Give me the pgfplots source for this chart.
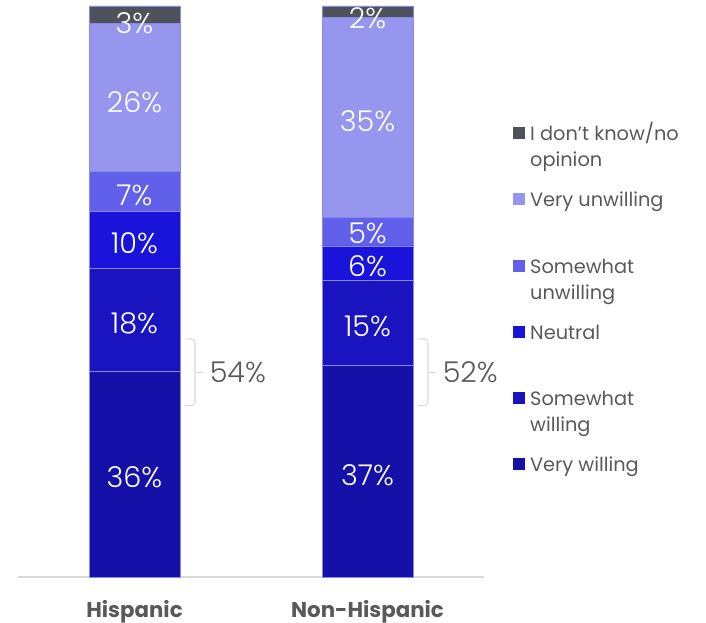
\documentclass[border=0pt]{standalone}
\usepackage{pgfplots}
\pgfplotsset{compat=1.18}
\usepackage{fontspec}
\setmainfont{Poppins}
\newfontfamily\lightfont{Poppins}[UprightFont={* Light}]
\definecolor{cDK}{HTML}{4E535B}
\definecolor{cVU}{HTML}{9696EE}
\definecolor{cSU}{HTML}{6060EA}
\definecolor{cNE}{HTML}{1A13D9}
\definecolor{cSW}{HTML}{1A14C0}
\definecolor{cVW}{HTML}{1511A8}
\definecolor{txt}{HTML}{595959}
\definecolor{brc}{HTML}{D9D9D9}
\definecolor{sep}{HTML}{8888E8}
\tikzset{
  dl/.style={text=white, font=\lightfont\fontsize{21.5}{25}\selectfont, inner sep=0pt},
  lg/.style={anchor=base west, inner sep=0pt, text=txt, font=\fontsize{14.5}{17}\selectfont},
  bl/.style={anchor=west, inner sep=0pt, text=txt, font=\lightfont\fontsize{21.5}{25}\selectfont},
}
\begin{document}
\begin{tikzpicture}
\useasboundingbox (-13.5pt,-34.5pt) rectangle (516pt,432.75pt);
\begin{axis}[
  at={(0pt,0pt)}, anchor=south west,
  x=174.75pt, y=4.2825pt,
  xmin=-0.5, xmax=1.5, ymin=0, ymax=100,
  ybar stacked, bar width=0.39,
  axis x line*=bottom, axis y line=none,
  x axis line style={brc, line width=1pt, -},
  xtick={0,1}, xticklabels={Hispanic, Non-Hispanic},
  major tick length=0pt,
  xticklabel style={font=\fontsize{16}{19}\selectfont\bfseries, text=txt, yshift=-14pt},
  clip=false,
]
\addplot[fill=cVW, draw=sep, line width=0.4pt] coordinates {(0,36) (1,37)};
\addplot[fill=cSW, draw=sep, line width=0.4pt] coordinates {(0,18) (1,15)};
\addplot[fill=cNE, draw=sep, line width=0.4pt] coordinates {(0,10) (1,6)};
\addplot[fill=cSU, draw=sep, line width=0.4pt] coordinates {(0,7) (1,5)};
\addplot[fill=cVU, draw=sep, line width=0.4pt] coordinates {(0,26) (1,35)};
\addplot[fill=cDK, draw=sep, line width=0.4pt] coordinates {(0,3) (1,2)};

\coordinate (a1) at (axis cs:0,17.4);
\coordinate (a2) at (axis cs:0,44.4);
\coordinate (a3) at (axis cs:0,58.4);
\coordinate (a4) at (axis cs:0,66.9);
\coordinate (a5) at (axis cs:0,83.2);
\coordinate (a6) at (axis cs:0,97.0);
\coordinate (b1) at (axis cs:1,17.9);
\coordinate (b2) at (axis cs:1,43.9);
\coordinate (b3) at (axis cs:1,54.5);
\coordinate (b4) at (axis cs:1,60.2);
\coordinate (b5) at (axis cs:1,79.9);
\coordinate (b6) at (axis cs:1,97.8);

\draw[brc, line width=0.8pt, rounded corners=3pt] (axis cs:0.2167,41.7) -- (axis cs:0.2597,41.7) -- (axis cs:0.2597,30.0) -- (axis cs:0.2167,30.0);
\draw[brc, line width=0.8pt] (axis cs:0.2597,35.8) -- (axis cs:0.294,35.8);
\draw[brc, line width=0.8pt, rounded corners=3pt] (axis cs:1.2167,41.7) -- (axis cs:1.2597,41.7) -- (axis cs:1.2597,30.0) -- (axis cs:1.2167,30.0);
\draw[brc, line width=0.8pt] (axis cs:1.2597,35.8) -- (axis cs:1.294,35.8);
\node[bl] at (axis cs:0.322,35.8) {54\%};
\node[bl] at (axis cs:1.322,35.8) {52\%};

\draw[cDK, fill=cDK] (axis cs:1.6245,76.8) rectangle (axis cs:1.6717,78.7);
\node[lg] at (axis cs:1.697,76.5) {I don’t know/no};
\node[lg] at (axis cs:1.697,71.9) {opinion};
\draw[cVU, fill=cVU] (axis cs:1.6245,65.25) rectangle (axis cs:1.6717,67.15);
\node[lg] at (axis cs:1.697,64.95) {Very unwilling};
\draw[cSU, fill=cSU] (axis cs:1.6245,53.5) rectangle (axis cs:1.6717,55.4);
\node[lg] at (axis cs:1.697,53.2) {Somewhat};
\node[lg] at (axis cs:1.697,48.65) {unwilling};
\draw[cNE, fill=cNE] (axis cs:1.6245,41.95) rectangle (axis cs:1.6717,43.85);
\node[lg] at (axis cs:1.697,41.65) {Neutral};
\draw[cSW, fill=cSW] (axis cs:1.6245,30.4) rectangle (axis cs:1.6717,32.3);
\node[lg] at (axis cs:1.697,30.1) {Somewhat};
\node[lg] at (axis cs:1.697,25.55) {willing};
\draw[cVW, fill=cVW] (axis cs:1.6245,18.85) rectangle (axis cs:1.6717,20.75);
\node[lg] at (axis cs:1.697,18.55) {Very willing};
\end{axis}
\node[dl] at (a1) {36\%};
\node[dl] at (a2) {18\%};
\node[dl] at (a3) {10\%};
\node[dl] at (a4) {7\%};
\node[dl] at (a5) {26\%};
\node[dl] at (a6) {3\%};
\node[dl] at (b1) {37\%};
\node[dl] at (b2) {15\%};
\node[dl] at (b3) {6\%};
\node[dl] at (b4) {5\%};
\node[dl] at (b5) {35\%};
\node[dl] at (b6) {2\%};
\end{tikzpicture}
\end{document}
